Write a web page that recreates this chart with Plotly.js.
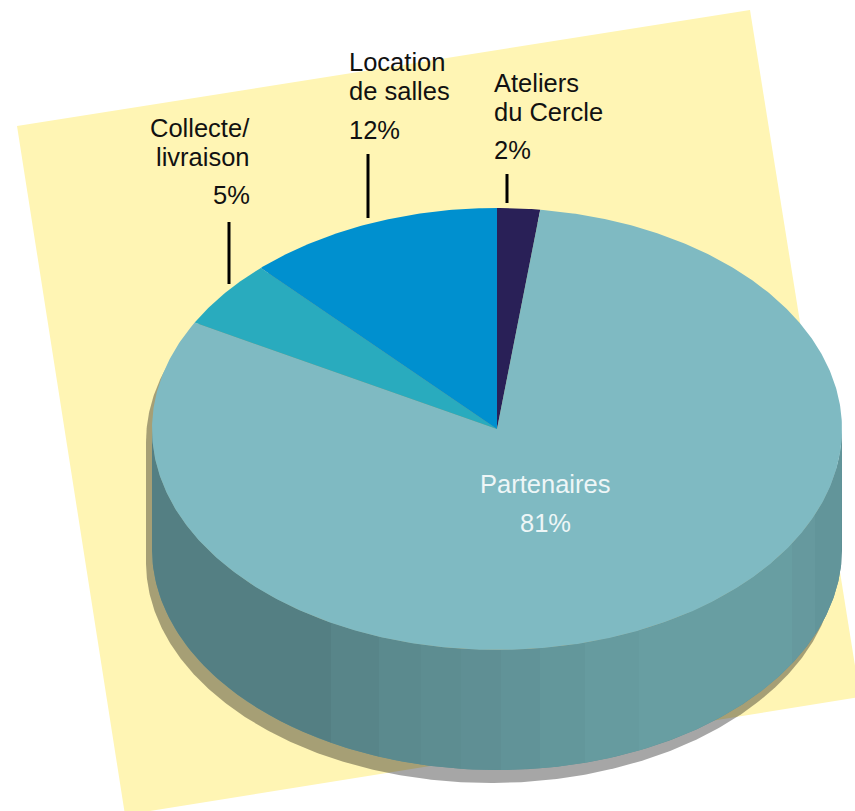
<!DOCTYPE html>
<html><head><meta charset="utf-8">
<script src="https://cdn.plot.ly/plotly-3.0.1.min.js"></script>
<style>html,body{margin:0;padding:0;background:#fff}#c{width:855px;height:811px}</style>
</head><body><div id="c"></div>
<script>
// Data (clockwise from 12 o'clock)
const categories = ['Ateliers du Cercle', 'Partenaires', 'Collecte/livraison', 'Location de salles'];
const values = [2, 81, 5, 12];
const labelLines = [['Ateliers', 'du Cercle'], ['Partenaires'], ['Collecte/', 'livraison'], ['Location', 'de salles']];

// Styles
const sliceColors = ['#292057', '#7FBAC2', '#29ABBE', '#0090CF'];
const wallEdges = [152, 331, 379, 421, 461, 501, 540, 585, 639, 792, 815, 842];
const wallColors = ['#547F83', '#588589', '#5B8A8E', '#5D8D91', '#5F8F94', '#619398', '#63979B', '#669B9F', '#689EA2', '#66999E', '#62959A'];

// Geometry of the tilted disc; its shadow is the same solid, shifted
const G = {cx: 497, cy: 429, rx: 345, ry: 221, depth: 120};
const S = {cx: 491, cy: 442, rx: 345, ry: 221, depth: 120};

function ellipsePoint(g, frac, dy) {
  const a = frac * 2 * Math.PI;
  return [g.cx + g.rx * Math.sin(a), g.cy - g.ry * Math.cos(a) + (dy || 0)];
}
function arc(g, f0, f1, dy) {
  const n = Math.max(2, Math.ceil(Math.abs(f1 - f0) * 720));
  const pts = [];
  for (let i = 0; i <= n; i++) pts.push(ellipsePoint(g, f0 + (f1 - f0) * i / n, dy));
  return pts;
}
function polyTrace(pts, color, name) {
  return {type: 'scatter', mode: 'lines', x: pts.map(p => p[0]), y: pts.map(p => p[1]),
    fill: 'toself', fillcolor: color, line: {width: 0, color: color}, name: name || '', hoverinfo: name ? 'name' : 'skip', showlegend: false};
}

const traces = [];
// soft shadow
traces.push(polyTrace([...arc(S, -0.25, 0.25), ...arc(S, 0.25, 0.75, S.depth)], 'rgba(0,0,0,0.35)'));
// side wall
traces.push(polyTrace([...arc(G, 0.25, 0.75), ...arc(G, 0.75, 0.25, G.depth)], wallColors[4]));
wallColors.forEach((col, i) => {
  const f = x => 0.5 - Math.asin(Math.max(-1, Math.min(1, (x - G.cx) / G.rx))) / (2 * Math.PI);
  const f0 = f(wallEdges[i]), f1 = f(wallEdges[i + 1]);
  traces.push(polyTrace([...arc(G, f0, f1), ...arc(G, f1, f0, G.depth)], col));
});
// top slices
const total = values.reduce((a, b) => a + b, 0);
let acc = 0;
values.forEach((v, i) => {
  const f0 = acc / total, f1 = (acc + v) / total;
  acc += v;
  traces.push(polyTrace([[G.cx, G.cy], ...arc(G, f0, f1), [G.cx, G.cy]], sliceColors[i], categories[i] + ' ' + v + '%'));
});

// Text
const FONT = 'Liberation Sans, Arial, sans-serif';
const ann = [];
function txt(x, y, t, anchor, color) {
  ann.push({x, y, xref: 'x', yref: 'y', text: t, showarrow: false, xanchor: anchor, yanchor: 'middle',
    font: {family: FONT, size: 25.5, color: color || '#111111'}, borderpad: 0, borderwidth: 0});
}
txt(494, 83, labelLines[0][0], 'left');
txt(494, 112, labelLines[0][1], 'left');
txt(494, 150, values[0] + '%', 'left');
txt(545, 484, labelLines[1][0], 'center', '#EEF6F7');
txt(545, 523, values[1] + '%', 'center', '#EEF6F7');
txt(250, 128, labelLines[2][0], 'right');
txt(250, 157, labelLines[2][1], 'right');
txt(250, 195, values[2] + '%', 'right');
txt(349, 62, labelLines[3][0], 'left');
txt(349, 91, labelLines[3][1], 'left');
txt(349, 130, values[3] + '%', 'left');

const leader = (x, y0, y1) => ({type: 'line', xref: 'x', yref: 'y', x0: x, x1: x, y0, y1, layer: 'above', line: {color: '#000', width: 3}});

const layout = {
  width: 855, height: 811, margin: {l: 0, r: 0, t: 0, b: 0},
  paper_bgcolor: '#fff', plot_bgcolor: 'rgba(0,0,0,0)', showlegend: false,
  xaxis: {range: [0, 855], visible: false, fixedrange: true},
  yaxis: {range: [811, 0], visible: false, fixedrange: true},
  annotations: ann,
  shapes: [
    {type: 'path', xref: 'x', yref: 'y', layer: 'below', path: 'M750,10 L17,126 L125,815 L860,697 Z', fillcolor: '#FFF5B4', line: {width: 0}},
    leader(507, 174, 203), leader(368, 154, 218), leader(229, 222, 284)
  ]
};
Plotly.newPlot('c', traces, layout, {staticPlot: true, displayModeBar: false});
</script></body></html>
